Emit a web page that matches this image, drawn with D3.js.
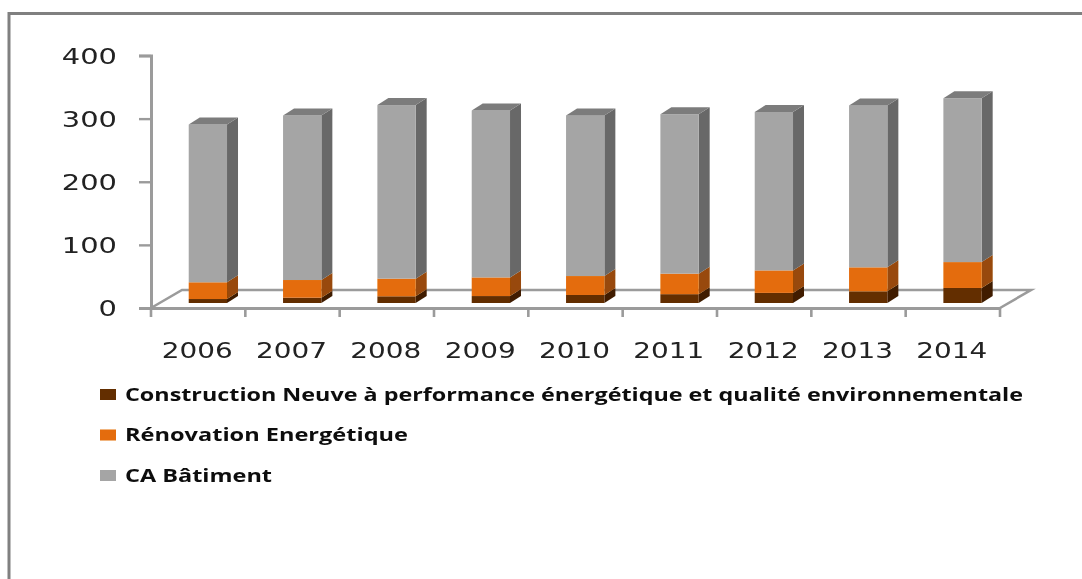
<!DOCTYPE html>
<html><head><meta charset="utf-8">
<script src="https://cdn.jsdelivr.net/npm/d3@7"></script>
<style>html,body{margin:0;padding:0;background:#fff}svg{display:block}</style></head>
<body><svg id="c" width="1082" height="579"></svg>
<script>
const years=["2006","2007","2008","2009","2010","2011","2012","2013","2014"];
const construction=[6.3,8.4,10.6,11,12.7,14,16,18.5,23.8];
const renovation=[26.5,28,28,29.5,30,32.5,35.6,38,41];
const batiment=[250,260.6,275,264.5,254.5,252.5,251,256.5,259.5];
const yTicks=[0,100,200,300,400];
const seriesNames=["Construction Neuve à performance énergétique et qualité environnementale","Rénovation Energétique","CA Bâtiment"];
const seriesFront=["#632e00","#e46c0a","#a5a5a5"];
const seriesSide=["#3f1d00","#984807","#686868"];
const legendWidths=[898,283,147];

const svg=d3.select("#c");
const defs=svg.append("defs");
defs.append("filter").attr("id","soft").attr("x","-5%").attr("y","-5%").attr("width","110%").attr("height","110%")
  .append("feGaussianBlur").attr("stdDeviation",0.55);
const root=svg.append("g").attr("filter","url(#soft)");

// frame
root.append("path").attr("d","M9 579V13.5H1082").attr("fill","none").attr("stroke","#808080").attr("stroke-width",3);

const x=d3.scaleBand().domain(years).range([151,1000]).paddingInner(0.594).paddingOuter(0.297);
const y=d3.scaleLinear().domain([0,400]).range([308,55.5]);
const dx=31,dy=-18;          // floor depth
const bx=9.7,by=-5;          // bars stand in the middle of the floor
const sx=11,sy=-7;           // bar side depth
const axisCol="#9b9b9b";

// floor
root.append("path").attr("fill","none").attr("stroke",axisCol).attr("stroke-width",2.6)
  .attr("d",`M${x.range()[0]} ${y(0)}L${x.range()[0]+dx} ${y(0)+dy}H${x.range()[1]+dx}L${x.range()[1]} ${y(0)}`);

// axes
const axY=root.append("g").attr("transform","translate(151,0)")
  .call(d3.axisLeft(y).tickValues(yTicks).tickSize(12).tickPadding(22));
const axX=root.append("g").attr("transform","translate(0,308)")
  .call(d3.axisBottom(x).tickSize(0).tickPadding(34));
[axY,axX].forEach(a=>{a.select(".domain").attr("stroke",axisCol).attr("stroke-width",3);
  a.selectAll(".tick line").attr("stroke",axisCol).attr("stroke-width",2.4);
  a.selectAll("text").attr("fill","#222").attr("font-family","DejaVu Sans").attr("font-size",22)
   .attr("lengthAdjust","spacingAndGlyphs");});
axY.selectAll("text").attr("textLength",d=>String(d).length*18.4).attr("dy","0.36em");
axX.selectAll("text").attr("textLength",71).attr("dx",-1);
// category boundary ticks
root.append("g").selectAll("line").data(d3.range(years.length+1)).join("line")
  .attr("x1",i=>x.range()[0]+i*x.step()).attr("x2",i=>x.range()[0]+i*x.step())
  .attr("y1",308).attr("y2",317).attr("stroke",axisCol).attr("stroke-width",2.6);

// stacked bars
const table=years.map((yr,i)=>({yr,a:construction[i],b:renovation[i],c:batiment[i]}));
const stacked=d3.stack().keys(["a","b","c"])(table);
const bars=root.append("g").attr("transform",`translate(${bx},${by})`);
stacked.forEach((s,k)=>{
  const g=bars.append("g");
  g.selectAll("path.side").data(s).join("path").attr("class","side").attr("fill",seriesSide[k])
    .attr("d",d=>{const r=x(d.data.yr)+x.bandwidth(),t=y(d[1]),b=y(d[0]);
      return `M${r} ${b}L${r+sx} ${b+sy}V${t+sy}L${r} ${t}Z`;});
  g.selectAll("rect").data(s).join("rect").attr("fill",seriesFront[k])
    .attr("x",d=>x(d.data.yr)).attr("width",x.bandwidth())
    .attr("y",d=>y(d[1])).attr("height",d=>y(d[0])-y(d[1]));
  if(k===2) g.selectAll("path.top").data(s).join("path").attr("class","top").attr("fill","#7c7c7c")
    .attr("d",d=>{const l=x(d.data.yr),r=l+x.bandwidth(),t=y(d[1]);
      return `M${l} ${t}L${l+sx} ${t+sy}H${r+sx}L${r} ${t}Z`;});
});

// legend
const ly=d3.scalePoint().domain(seriesNames).range([394.5,475.5]);
const leg=root.append("g").selectAll("g").data(seriesNames).join("g")
  .attr("transform",d=>`translate(100,${ly(d)})`);
leg.append("rect").attr("y",-5.5).attr("width",16).attr("height",11).attr("fill",(d,i)=>seriesFront[i]);
leg.append("text").attr("x",25).attr("y",6).attr("fill","#111").attr("font-family","Open Sans")
  .attr("font-weight",700).attr("font-size",18).attr("lengthAdjust","spacingAndGlyphs")
  .attr("textLength",(d,i)=>legendWidths[i]).text(d=>d);
</script></body></html>
